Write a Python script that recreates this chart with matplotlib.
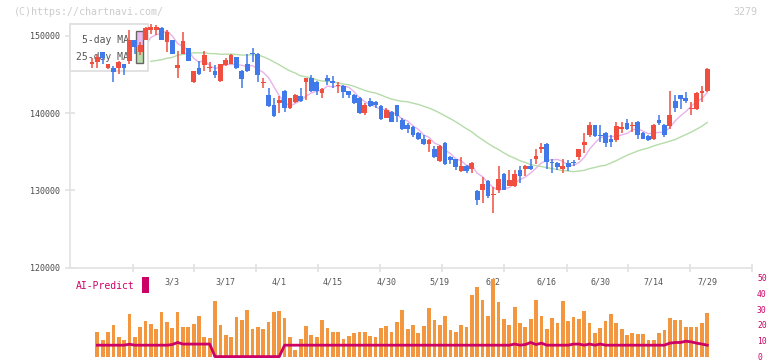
import numpy as np
import pandas as pd
import matplotlib
matplotlib.use("Agg")
import matplotlib.pyplot as plt
from matplotlib.patches import Rectangle
from matplotlib.transforms import blended_transform_factory

# ---------------- data ----------------
opens = [146400, 146600, 147900, 145800, 145900, 145800, 146300, 146800, 149500, 147900,
         149500, 150700, 150800, 151000, 149200, 149400, 145800, 147600, 148400, 144000,
         145900, 146200, 145800, 145500, 144100, 146200, 146400, 147200, 145500, 146300,
         147800, 147700, 143900, 142400, 141000, 141300, 142900, 140600, 141400, 142200,
         144000, 144500, 144000, 142600, 144500, 144200, 143500, 143500, 142800, 142400,
         142000, 140000, 141500, 141400, 140900, 139400, 140200, 141000, 139100, 138400,
         138200, 137400, 136600, 136000, 135300, 133800, 136100, 134300, 134000, 132500,
         133200, 132800, 129900, 130100, 131200, 129400, 130100, 132100, 130600, 130600,
         132600, 132800, 133200, 134100, 135400, 136000, 133600, 133500, 132700, 133500,
         133600, 134300, 135800, 137200, 138400, 137100, 137400, 136600, 136500, 137900,
         138700, 138300, 138900, 137400, 137000, 136600, 139100, 138500, 138300, 141500,
         142300, 141900, 140500, 140500, 142600, 142800]
highs = [147100, 147500, 147900, 146400, 146100, 146800, 146400, 150700, 149500, 149200,
         151100, 151500, 151400, 151200, 150700, 149400, 148100, 150500, 148400, 145500,
         146800, 148100, 146600, 146200, 146400, 147100, 147600, 147300, 145600, 147600,
         148400, 147800, 144600, 143200, 141900, 142200, 143000, 142000, 142500, 143200,
         144600, 144900, 144100, 143300, 144900, 144800, 144000, 143600, 142900, 142500,
         142100, 141300, 141900, 141500, 141000, 140600, 140300, 141100, 139300, 138700,
         138300, 137500, 137100, 136600, 135700, 135800, 136200, 134500, 134100, 134300,
         133300, 133600, 130000, 131700, 131300, 130400, 133200, 132200, 132600, 132600,
         133100, 133300, 134100, 135300, 136100, 136100, 134100, 133600, 134100, 133900,
         133900, 135400, 137400, 138800, 138500, 138400, 137500, 137200, 138800, 138800,
         139200, 138800, 139000, 137600, 137100, 138600, 139800, 138600, 142900, 142300,
         142400, 142700, 141400, 142700, 143500, 145800]
lows = [145900, 145800, 146400, 145700, 144000, 145100, 144900, 146400, 147700, 147500,
        149400, 150300, 150100, 149400, 147900, 147700, 144500, 147600, 146800, 143900,
        144900, 145500, 145300, 144500, 144000, 146100, 146300, 145700, 143200, 145300,
        146600, 144000, 143300, 140800, 139500, 140000, 140100, 140500, 141300, 141400,
        141700, 142700, 142300, 142000, 143600, 143300, 142600, 142000, 141900, 141200,
        139900, 139800, 140800, 140600, 139100, 139300, 138800, 138900, 137800, 137400,
        136900, 136500, 135900, 134900, 134200, 133700, 133300, 133400, 132600, 132400,
        132200, 132200, 128100, 128400, 129000, 127100, 129600, 130000, 130500, 130400,
        131000, 131900, 132600, 133400, 134800, 132800, 132300, 132600, 132300, 132500,
        133100, 133900, 134800, 136900, 136900, 136300, 135600, 135600, 136200, 137400,
        137800, 137600, 136700, 136600, 136400, 136500, 138500, 136900, 138000, 140200,
        140500, 141300, 139800, 140400, 141400, 142700]
closes = [146600, 147200, 147100, 146300, 145300, 146600, 145900, 149500, 148500, 148800,
          151000, 151200, 151200, 149400, 150500, 147700, 146200, 149300, 146800, 145500,
          145100, 147500, 145900, 144900, 146300, 146900, 147500, 145800, 144400, 145400,
          147700, 144900, 144000, 140900, 139600, 141700, 140600, 141900, 142400, 141500,
          144500, 142800, 142900, 143100, 144200, 143900, 143600, 142700, 142300, 141300,
          140000, 141000, 140900, 141000, 139200, 140400, 138900, 139600, 138000, 138000,
          137200, 136600, 136000, 136500, 134300, 135700, 133400, 133900, 133000, 133200,
          132500, 133500, 128800, 130800, 129300, 129500, 131500, 130100, 131300, 132100,
          131900, 133200, 132700, 134400, 135500, 133600, 133500, 133000, 133100, 133000,
          133500, 135300, 136300, 138500, 137000, 137000, 136100, 136300, 138300, 138200,
          137900, 138400, 137100, 136700, 136500, 138500, 138700, 137200, 139800, 140700,
          141800, 141500, 140700, 142600, 142800, 145700]
volume = [np.nan, 15.3, 10.3, 15.3, 19.7, 12.1, 10.3, 26.6, 12.1, 18.6,
          22.2, 20.3, 17.2, 27.9, 21.8, 17.8, 27.9, 18.6, 18.6, 20.3,
          25.3, 12.1, 11.5, 34.8, 19.7, 13.4, 12.1, 24.7, 22.8, 29.1,
          17.2, 18.6, 17.2, 21.6, 27.9, 28.5, 24.1, 12.1, 4.0, 10.9,
          19.1, 13.4, 12.1, 22.8, 17.8, 15.3, 15.3, 10.9, 12.8, 14.7,
          15.3, 15.3, 12.8, 12.1, 17.8, 19.1, 15.3, 21.6, 29.1, 17.2,
          19.7, 14.7, 19.1, 30.4, 22.8, 19.7, 25.3, 16.5, 15.3, 19.7,
          18.6, 38.6, 43.6, 36.0, 25.3, 49.2, 34.2, 23.5, 19.7, 31.0,
          20.9, 18.4, 23.5, 36.0, 25.3, 17.2, 24.1, 20.9, 34.8, 22.2,
          24.7, 23.5, 28.5, 20.9, 14.7, 17.8, 22.2, 26.6, 20.9, 17.2,
          13.4, 14.7, 14.0, 14.0, 10.3, 10.3, 14.7, 16.5, 24.1, 22.8,
          22.8, 18.4, 18.4, 18.4, 20.9, 27.2]
ai_predict = [np.nan, 7.2, 7.2, 7.2, 7.2, 7.2, 7.2, 7.8, 7.2, 7.2,
              7.2, 7.2, 7.2, 7.2, 7.2, 7.6, 8.9, 7.9, 7.9, 7.9,
              7.9, 7.9, 7.9, 0, 0, 0, 0, 0, 0, 0,
              0, 0, 0, 0, 0, 0, 7.2, 7.2, 7.2, 7.2,
              7.2, 7.2, 7.2, 7.2, 7.2, 7.2, 7.2, 7.2, 7.2, 7.2,
              7.2, 7.2, 7.2, 7.2, 7.2, 7.2, 7.2, 7.2, 7.2, 7.2,
              7.2, 7.2, 7.2, 7.2, 7.2, 7.2, 7.2, 7.2, 7.2, 7.2,
              7.2, 7.2, 7.2, 7.2, 7.2, 7.2, 7.2, 7.2, 7.2, 7.9,
              7.2, 7.6, 8.9, 7.6, 8.5, 7.2, 7.2, 7.2, 7.2, 7.2,
              7.9, 7.9, 7.2, 7.9, 7.2, 7.9, 7.2, 7.2, 7.2, 7.2,
              7.2, 7.2, 7.2, 7.2, 7.2, 7.2, 7.2, 7.2, 8.5, 8.9,
              8.9, 9.7, 9.3, 8.5, 7.9, 7.2]
# 25-day MA for candles 12..24 (its history lies before the window)
ma25_head = [146700, 146800, 146900, 147100, 147200, 147500, 147600, 147700,
             147800, 147800, 147800, 147700, 147700]
date_labels = ["3/3", "3/17", "4/1", "4/15", "4/30", "5/19", "6/2", "6/16",
               "6/30", "7/14", "7/29"]
date_label_idx = [15, 25, 35, 45, 55, 65, 75, 85, 95, 105, 115]
price_ticks = [120000, 130000, 140000, 150000]
ai_ticks = [0, 10, 20, 30, 40, 50]

# ---------------- layout ----------------
W, H = 772, 361
fig = plt.figure(figsize=(W / 100, H / 100), dpi=100)
fig.patch.set_facecolor("white")
MONO = "DejaVu Sans Mono"

def fx(px):
    return px / W

def fy(py):
    return 1 - py / H

n = len(closes)
x = np.arange(n)
o = np.array(opens, float); c = np.array(closes, float)
hi = np.array(highs, float); lo = np.array(lows, float)

STEP = 5.35          # px per candle
X0 = 92              # px of first candle
xl = ((70 - X0) / STEP, (752 - X0) / STEP)

PPX = 129.5          # price per pixel
ax = fig.add_axes([fx(70), fy(267.5), fx(752) - fx(70), (267.5 - 24) / H])
ax.set_xlim(*xl)
ax.set_ylim(120000, 120000 + (267.5 - 24) * PPX)
ax.set_facecolor("none")
for s in ["top", "right"]:
    ax.spines[s].set_visible(False)
for s in ["left", "bottom"]:
    ax.spines[s].set_color("#e2e2e2")
    ax.spines[s].set_linewidth(1.2)
ax.set_yticks(price_ticks)
ax.set_yticklabels([str(v) for v in price_ticks], family=MONO, fontsize=6,
                   color="#4a4a4a")
ax.tick_params(axis="y", direction="inout", length=6.5, width=1.2,
               color="#e2e2e2", pad=4.3)
xt = [(px - X0) / STEP for px in [133, 194, 256, 318, 380, 442, 504, 567, 628, 690, 752]]
ax.set_xticks(xt)
ax.set_xticklabels([])
ax.tick_params(axis="x", direction="inout", length=5.8, width=1.2, color="#e2e2e2")

# moving averages
cs = pd.Series(c)
ma5 = cs.rolling(5).mean().to_numpy()
ma25 = cs.rolling(25).mean().to_numpy()
ma25[11:24] = ma25_head
ax.plot(x, ma5, color="#e9b2ea", lw=1.0, zorder=1)
ax.plot(x, ma25, color="#b5dca9", lw=1.0, zorder=1)

# legend box (above the MA lines, below candles)
ax.add_patch(Rectangle((fx(70), fy(71)), fx(148) - fx(70), (71 - 24) / H,
                       transform=fig.transFigure, fc="white", ec="#dddddd",
                       lw=1.2, zorder=2, clip_on=False))
ax.text(fx(82), fy(40), "5-day MA", transform=fig.transFigure, family=MONO,
        fontsize=7, color="#555555", va="center", ha="left", zorder=3)
ax.text(fx(75.5), fy(57), "25-day MA", transform=fig.transFigure, family=MONO,
        fontsize=7, color="#555555", va="center", ha="left", zorder=3)
ax.add_patch(Rectangle((fx(136), fy(47)), 7 / W, 16 / H, transform=fig.transFigure,
                       fc="#eebbee", ec="none", zorder=3, clip_on=False))
ax.add_patch(Rectangle((fx(136), fy(63)), 7 / W, 16 / H, transform=fig.transFigure,
                       fc="#bbddaa", ec="none", zorder=3, clip_on=False))
ax.add_patch(Rectangle((fx(136), fy(63)), 7 / W, 32 / H, transform=fig.transFigure,
                       fc="none", ec="#666666", lw=1, zorder=3, clip_on=False))

# candles
up = c >= o
colors = np.where(up, "#f04f3f", "#3f79ea")
body_lo = np.minimum(o, c)
body_h = np.maximum(np.abs(c - o), PPX * 1.1)
ax.vlines(x, lo, hi, colors=colors, lw=1.1, zorder=4, clip_on=False)
ax.bar(x, body_h, bottom=body_lo, width=0.88, color=colors, lw=0, zorder=5,
       clip_on=False)

# date labels
tr = blended_transform_factory(ax.transData, fig.transFigure)
for i, lab in zip(date_label_idx, date_labels):
    ax.text(i, fy(282), lab, transform=tr, ha="center", va="center",
            family=MONO, fontsize=6, color="#555555", clip_on=False)

# ---------------- lower panel ----------------
V0, VPX = 356.6, 1.586
ax2 = fig.add_axes([fx(70), 0, fx(752) - fx(70), (361 - 265) / H])
ax2.set_xlim(*xl)
ax2.set_ylim((V0 - 361) / VPX, (V0 - 265) / VPX)
ax2.set_facecolor("none")
for s in ax2.spines.values():
    s.set_visible(False)
ax2.set_xticks([])
ax2.yaxis.tick_right()
ax2.set_yticks(ai_ticks)
ax2.set_yticklabels([str(v) for v in ai_ticks], family=MONO, fontsize=5.8,
                    color="#cc0066")
ax2.tick_params(axis="y", length=0, pad=3.6)
ax2.bar(x, volume, width=0.71, color="#f29640", lw=0, zorder=2)
ax2.plot(x, ai_predict, color="#cc0066", lw=2.0, zorder=3, clip_on=False,
         solid_joinstyle="round")

fig.text(fx(76), fy(286), "AI-Predict", family=MONO, fontsize=7,
         color="#cc0066", ha="left", va="center")
fig.patches.append(Rectangle((fx(142), fy(293)), 7 / W, 16 / H,
                             transform=fig.transFigure, fc="#cc0066", ec="none"))

# watermark
fig.text(fx(14), fy(12), "(C)https://chartnavi.com/", family=MONO, fontsize=7.2,
         color="#cccccc", ha="left", va="center")
fig.text(fx(757), fy(12), "3279", family=MONO, fontsize=7.2,
         color="#cccccc", ha="right", va="center")

fig.savefig("out.png", dpi=100, facecolor="white")
